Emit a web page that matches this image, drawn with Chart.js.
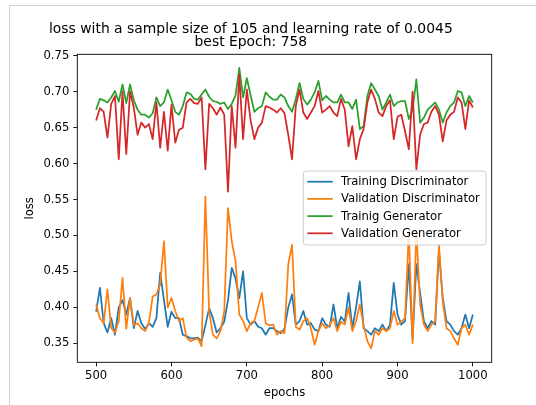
<!DOCTYPE html>
<html>
<head>
<meta charset="utf-8">
<script src="https://cdn.jsdelivr.net/npm/chart.js@4.4.1/dist/chart.umd.min.js"></script>
<style>
  html, body { margin: 0; padding: 0; background: #fff; }
  #wrap { position: relative; width: 536px; height: 405px; overflow: hidden; }
  #frame { position: absolute; left: 9px; top: 5px; width: 600px; height: 500px;
           border-left: 1px solid #cfcfcf; border-top: 1px solid #cfcfcf; }
  canvas { position: absolute; left: 0; top: 0; }
</style>
</head>
<body>
<div id="wrap">
  <div id="frame"></div>
  <canvas id="lossChart" width="536" height="405"></canvas>
</div>
<script>
// epochs sampled every 5 epochs
var epochs = [
  500, 505, 510, 515, 520, 525, 530, 535, 540, 545,
  550, 555, 560, 565, 570, 575, 580, 585, 590, 595,
  600, 605, 610, 615, 620, 625, 630, 635, 640, 645,
  650, 655, 660, 665, 670, 675, 680, 685, 690, 695,
  700, 705, 710, 715, 720, 725, 730, 735, 740, 745,
  750, 755, 760, 765, 770, 775, 780, 785, 790, 795,
  800, 805, 810, 815, 820, 825, 830, 835, 840, 845,
  850, 855, 860, 865, 870, 875, 880, 885, 890, 895,
  900, 905, 910, 915, 920, 925, 930, 935, 940, 945,
  950, 955, 960, 965, 970, 975, 980, 985, 990, 995,
  1000
];

var trainDisc = [
  0.394, 0.427, 0.378, 0.365, 0.385, 0.362, 0.400, 0.410, 0.390, 0.413,
  0.371, 0.395, 0.378, 0.370, 0.378, 0.373, 0.385, 0.448, 0.410, 0.373,
  0.394, 0.385, 0.385, 0.362, 0.360, 0.357, 0.357, 0.358, 0.353, 0.375,
  0.399, 0.385, 0.365, 0.371, 0.380, 0.410, 0.455, 0.440, 0.413, 0.450,
  0.385, 0.376, 0.381, 0.373, 0.371, 0.362, 0.371, 0.371, 0.367, 0.364,
  0.370, 0.400, 0.418, 0.376, 0.381, 0.395, 0.376, 0.378, 0.369, 0.367,
  0.385, 0.376, 0.373, 0.404, 0.371, 0.387, 0.380, 0.420, 0.371, 0.400,
  0.436, 0.371, 0.367, 0.362, 0.371, 0.367, 0.376, 0.367, 0.376, 0.434,
  0.390, 0.376, 0.381, 0.460, 0.355, 0.460, 0.420, 0.381, 0.371, 0.381,
  0.376, 0.480, 0.413, 0.381, 0.376, 0.367, 0.362, 0.371, 0.390, 0.371,
  0.390
];

var valDisc = [
  0.404, 0.385, 0.378, 0.425, 0.371, 0.365, 0.381, 0.441, 0.370, 0.413,
  0.375, 0.378, 0.371, 0.367, 0.378, 0.415, 0.418, 0.432, 0.492, 0.400,
  0.413, 0.395, 0.381, 0.385, 0.358, 0.353, 0.355, 0.357, 0.346, 0.554,
  0.394, 0.362, 0.357, 0.367, 0.394, 0.538, 0.492, 0.464, 0.390, 0.381,
  0.367, 0.378, 0.381, 0.400, 0.420, 0.378, 0.375, 0.376, 0.362, 0.367,
  0.364, 0.460, 0.487, 0.373, 0.369, 0.381, 0.385, 0.371, 0.348, 0.367,
  0.378, 0.371, 0.375, 0.385, 0.367, 0.380, 0.376, 0.400, 0.367, 0.381,
  0.404, 0.375, 0.353, 0.343, 0.367, 0.362, 0.371, 0.367, 0.371, 0.395,
  0.376, 0.380, 0.385, 0.506, 0.350, 0.506, 0.404, 0.376, 0.367, 0.376,
  0.381, 0.487, 0.408, 0.371, 0.367, 0.357, 0.348, 0.371, 0.376, 0.362,
  0.376
];

var trainGen = [
  0.675, 0.690, 0.688, 0.685, 0.692, 0.701, 0.686, 0.710, 0.684, 0.710,
  0.688, 0.675, 0.668, 0.668, 0.664, 0.670, 0.692, 0.680, 0.685, 0.703,
  0.688, 0.672, 0.668, 0.680, 0.699, 0.697, 0.690, 0.689, 0.696, 0.703,
  0.693, 0.687, 0.686, 0.683, 0.685, 0.676, 0.683, 0.695, 0.733, 0.692,
  0.719, 0.695, 0.672, 0.677, 0.680, 0.699, 0.693, 0.689, 0.689, 0.696,
  0.692, 0.680, 0.672, 0.690, 0.712, 0.690, 0.682, 0.689, 0.699, 0.715,
  0.688, 0.694, 0.689, 0.685, 0.685, 0.696, 0.685, 0.685, 0.676, 0.689,
  0.648, 0.652, 0.694, 0.712, 0.703, 0.694, 0.675, 0.685, 0.696, 0.680,
  0.685, 0.687, 0.687, 0.662, 0.675, 0.717, 0.657, 0.664, 0.675, 0.680,
  0.685, 0.675, 0.657, 0.671, 0.680, 0.685, 0.701, 0.699, 0.680, 0.694,
  0.685
];

var valGen = [
  0.660, 0.677, 0.672, 0.636, 0.683, 0.694, 0.606, 0.700, 0.613, 0.700,
  0.678, 0.640, 0.657, 0.650, 0.655, 0.634, 0.685, 0.622, 0.672, 0.618,
  0.682, 0.629, 0.647, 0.650, 0.685, 0.690, 0.684, 0.683, 0.692, 0.592,
  0.683, 0.677, 0.668, 0.678, 0.668, 0.561, 0.680, 0.622, 0.724, 0.634,
  0.703, 0.660, 0.634, 0.650, 0.657, 0.680, 0.678, 0.675, 0.671, 0.677,
  0.670, 0.640, 0.606, 0.680, 0.703, 0.671, 0.662, 0.671, 0.680, 0.701,
  0.671, 0.675, 0.680, 0.671, 0.666, 0.690, 0.675, 0.624, 0.652, 0.606,
  0.634, 0.648, 0.685, 0.703, 0.690, 0.671, 0.666, 0.680, 0.688, 0.634,
  0.665, 0.668, 0.645, 0.620, 0.700, 0.592, 0.640, 0.655, 0.657, 0.672,
  0.680, 0.668, 0.631, 0.660, 0.668, 0.672, 0.692, 0.685, 0.648, 0.688,
  0.678
];

var seriesNames = ['Training Discriminator', 'Validation Discriminator', 'Trainig Generator', 'Validation Generator'];
var seriesColors = ['#1f77b4', '#ff7f0e', '#2ca02c', '#d62728'];
var titleLines = ['loss with a sample size of 105 and learning rate of 0.0045', 'best Epoch: 758'];
var xTicks = [500, 600, 700, 800, 900, 1000];
var yTicks = [0.35, 0.40, 0.45, 0.50, 0.55, 0.60, 0.65, 0.70, 0.75];

Chart.defaults.font.family = 'DejaVu Sans';
Chart.defaults.color = '#000';

function toPoints(values) {
  return epochs.map(function (e, i) { return { x: e, y: values[i] }; });
}

var allSeries = [trainDisc, valDisc, trainGen, valGen];
var datasets = allSeries.map(function (vals, i) {
  return {
    label: seriesNames[i],
    data: toPoints(vals),
    borderColor: seriesColors[i],
    backgroundColor: seriesColors[i],
    borderWidth: 1.75,
    borderJoinStyle: 'round',
    pointRadius: 0,
    fill: false,
    tension: 0,
    order: 4 - i
  };
});

// top/right spines + matplotlib-like legend drawn over the lines
var frameAndLegend = {
  id: 'frameAndLegend',
  afterDatasetsDraw: function (chart) {
    var ctx = chart.ctx, a = chart.chartArea;
    ctx.save();
    ctx.strokeStyle = '#000';
    ctx.lineWidth = 0.9;
    ctx.strokeRect(a.left, a.top, a.right - a.left, a.bottom - a.top);

    var w = 182.7, h = 74, r = 3;
    var x0 = a.right - 5.7 - w, y0 = a.top + 116.7;
    ctx.beginPath();
    ctx.moveTo(x0 + r, y0);
    ctx.arcTo(x0 + w, y0, x0 + w, y0 + h, r);
    ctx.arcTo(x0 + w, y0 + h, x0, y0 + h, r);
    ctx.arcTo(x0, y0 + h, x0, y0, r);
    ctx.arcTo(x0, y0, x0 + w, y0, r);
    ctx.closePath();
    ctx.fillStyle = 'rgba(255,255,255,0.8)';
    ctx.fill();
    ctx.strokeStyle = '#cccccc';
    ctx.lineWidth = 1;
    ctx.stroke();

    ctx.font = '11.6px "DejaVu Sans"';
    ctx.textBaseline = 'middle';
    ctx.textAlign = 'left';
    chart.data.datasets.forEach(function (ds, i) {
      var cy = y0 + 10.7 + i * 17.2;
      ctx.beginPath();
      ctx.moveTo(x0 + 4, cy);
      ctx.lineTo(x0 + 29.4, cy);
      ctx.strokeStyle = ds.borderColor;
      ctx.lineWidth = 1.75;
      ctx.stroke();
      ctx.fillStyle = '#000';
      ctx.fillText(ds.label, x0 + 37.7, cy + 0.5);
    });
    ctx.restore();
  }
};

new Chart(document.getElementById('lossChart'), {
  type: 'line',
  data: { datasets: datasets },
  plugins: [frameAndLegend],
  options: {
    responsive: false,
    animation: false,
    layout: { padding: { left: 10, right: 44.3, top: 23, bottom: 0 } },
    plugins: {
      legend: { display: false },
      tooltip: { enabled: false },
      title: {
        display: true,
        text: titleLines,
        color: '#000',
        font: { size: 13.9, weight: 'normal', lineHeight: 0.914 },
        padding: { top: 0, bottom: 5.9 }
      }
    },
    scales: {
      x: {
        type: 'linear',
        min: 475,
        max: 1025,
        afterBuildTicks: function (axis) { axis.ticks = xTicks.map(function (v) { return { value: v }; }); },
        afterFit: function (axis) { axis.height = 42.7; },
        grid: { drawOnChartArea: false, drawTicks: true, tickLength: 4, tickWidth: 0.9, tickColor: '#000' },
        border: { display: false },
        ticks: {
          padding: 3, maxRotation: 0, autoSkip: false, font: { size: 11.6 }, color: '#000',
          callback: function (v) { return String(v); }
        },
        title: { display: true, text: 'epochs', color: '#000', font: { size: 11.6 }, padding: { top: 0, bottom: 5 } }
      },
      y: {
        type: 'linear',
        min: 0.3236,
        max: 0.752,
        afterBuildTicks: function (axis) { axis.ticks = yTicks.map(function (v) { return { value: v }; }); },
        afterFit: function (axis) { axis.width = 67.3; },
        grid: { drawOnChartArea: false, drawTicks: true, tickLength: 4, tickWidth: 0.9, tickColor: '#000' },
        border: { display: false },
        ticks: {
          padding: 4, autoSkip: false, font: { size: 11.6 }, color: '#000',
          callback: function (v) { return Number(v).toFixed(2); }
        },
        title: { display: true, text: 'loss', color: '#000', font: { size: 11.6 }, padding: { top: 13, bottom: 0 } }
      }
    }
  }
});
</script>
</body>
</html>
